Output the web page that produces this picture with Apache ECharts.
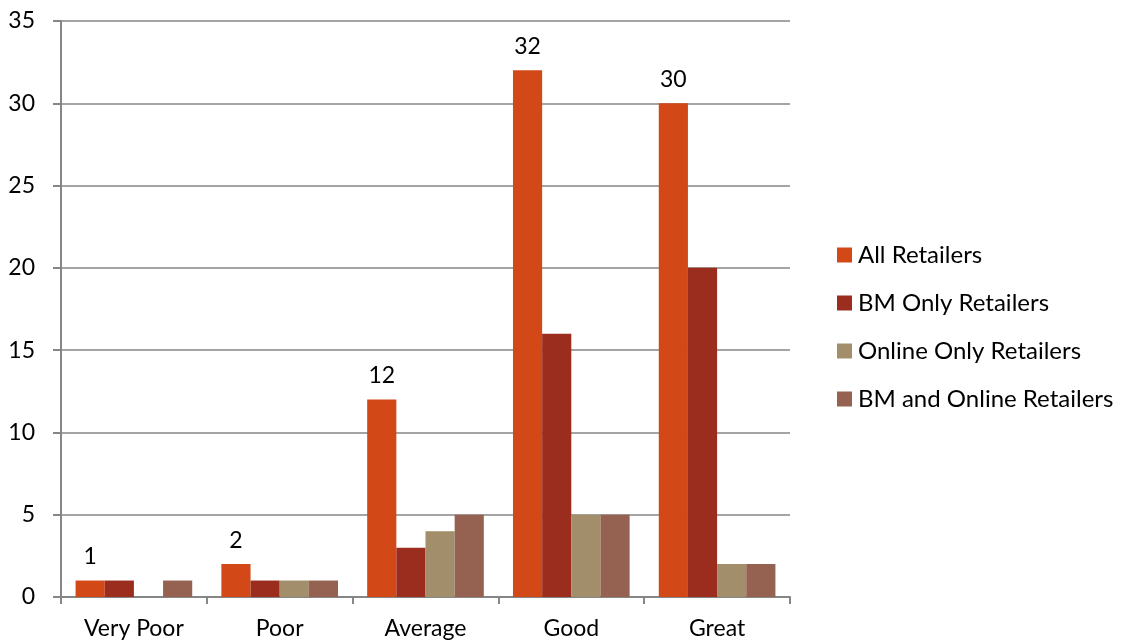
<!DOCTYPE html>
<html>
<head>
<meta charset="utf-8">
<script src="https://cdn.jsdelivr.net/npm/echarts@6/dist/echarts.min.js"></script>
<style>
  html, body { margin: 0; padding: 0; background: #fff; }
  #chart { width: 1122px; height: 642px; }
</style>
</head>
<body>
<div id="chart"></div>
<script>
// Retailer rating counts by category
const categories = ['Very Poor', 'Poor', 'Average', 'Good', 'Great'];
const allRetailers = [1, 2, 12, 32, 30];
const bmOnly = [1, 1, 3, 16, 20];
const onlineOnly = [null, 1, 4, 5, 2];
const bmAndOnline = [1, 1, 5, 5, 2];
const yTicks = { min: 0, max: 35, interval: 5 };

const FONT = 'Lato, "Open Sans", sans-serif';
const FS = 23;
const GRID = '#868686';

const chart = echarts.init(document.getElementById('chart'));

function barSeries(name, data, color, withLabel) {
  return {
    name: name,
    type: 'bar',
    data: data,
    barGap: '0%',
    barCategoryGap: '20%',
    itemStyle: { color: color },
    label: withLabel ? {
      show: true,
      position: 'top',
      distance: 12,
      color: '#000',
      fontFamily: FONT,
      fontSize: FS
    } : { show: false },
    emphasis: { disabled: true }
  };
}

chart.setOption({
  animation: false,
  textStyle: { fontFamily: FONT },
  grid: { left: 61, right: 332, top: 21, bottom: 45, containLabel: false },
  legend: {
    orient: 'vertical',
    left: 832,
    top: 238,
    itemWidth: 15,
    itemHeight: 15,
    itemGap: 24,
    icon: 'rect',
    textStyle: { fontFamily: FONT, fontSize: 24, lineHeight: 24, color: '#000', padding: [0, 0, 0, 1] },
    data: ['All Retailers', 'BM Only Retailers', 'Online Only Retailers', 'BM and Online Retailers']
  },
  xAxis: {
    type: 'category',
    data: categories,
    axisLine: { lineStyle: { color: GRID, width: 2 } },
    axisTick: { show: true, length: 7, lineStyle: { color: GRID, width: 2 } },
    axisLabel: { color: '#000', fontFamily: FONT, fontSize: FS, margin: 20 }
  },
  yAxis: {
    type: 'value',
    min: yTicks.min,
    max: yTicks.max,
    interval: yTicks.interval,
    axisLine: { show: true, lineStyle: { color: GRID, width: 2 } },
    axisTick: { show: true, length: 8, lineStyle: { color: GRID, width: 2 } },
    splitLine: { show: true, lineStyle: { color: GRID, width: 1.5 } },
    axisLabel: { color: '#000', fontFamily: FONT, fontSize: FS, margin: 26 }
  },
  series: [
    barSeries('All Retailers', allRetailers, '#D34817', true),
    barSeries('BM Only Retailers', bmOnly, '#9B2D1F', false),
    barSeries('Online Only Retailers', onlineOnly, '#A28E6A', false),
    barSeries('BM and Online Retailers', bmAndOnline, '#956251', false)
  ]
});
</script>
</body>
</html>
